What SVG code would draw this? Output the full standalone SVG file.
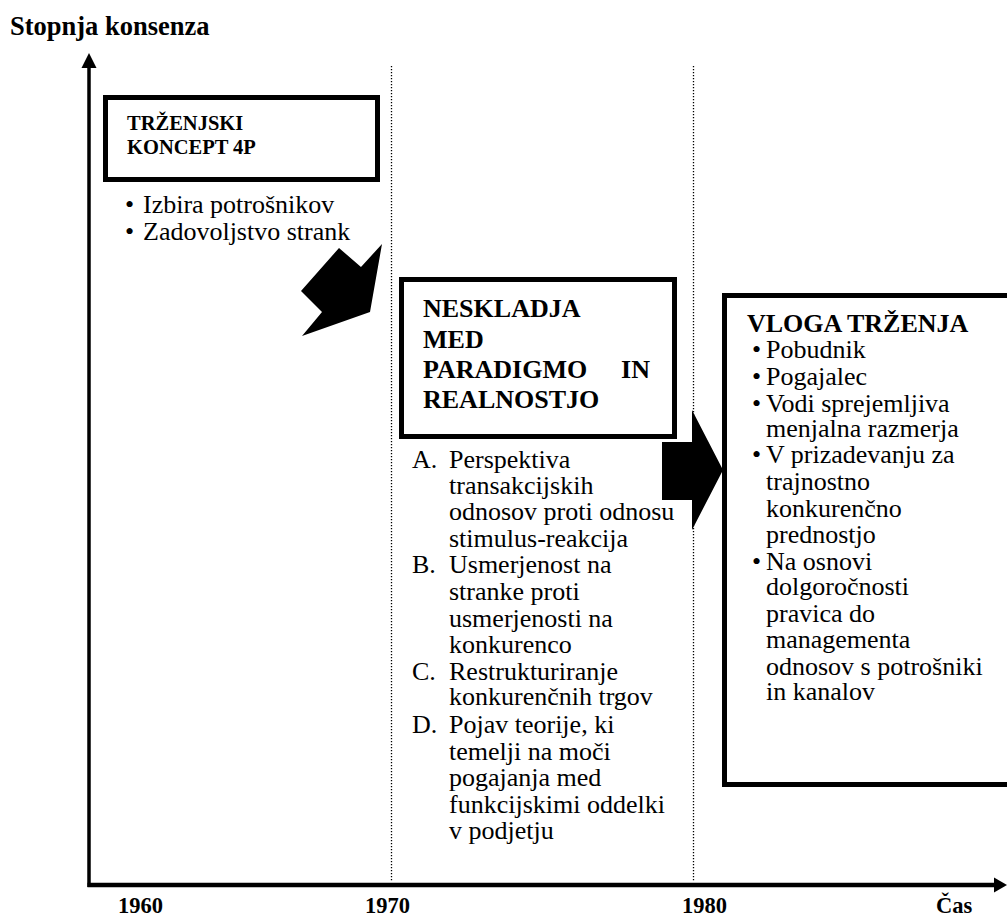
<svg xmlns="http://www.w3.org/2000/svg" width="1007" height="920" viewBox="0 0 1007 920">
<style>
.t{font-family:"Liberation Serif","Times New Roman",serif;fill:#000}
.b{font-weight:bold}
.r{font-size:26px}
.box{fill:#fff;stroke:#000;stroke-width:5}
.dot{stroke:#000;stroke-width:1.3;stroke-dasharray:1.3 1.7;fill:none}
.ax{stroke:#000;fill:none}
</style>
<rect width="1007" height="920" fill="#fff"/>
<g id="gridlines">
<line class="dot" x1="391.5" y1="66" x2="391.5" y2="881"/>
<line class="dot" x1="693.5" y1="66" x2="693.5" y2="881"/>
</g>
<g id="axes">
<line class="ax" x1="89" y1="887" x2="89" y2="66" stroke-width="3.5"/>
<polygon points="89,53 81.5,68 96.5,68"/>
<line class="ax" x1="87.5" y1="885" x2="995" y2="885" stroke-width="4.5"/>
<polygon points="1007,885 994,877.5 994,892.5"/>
<text class="t b" x="10" y="35" font-size="26.5">Stopnja konsenza</text>
<text class="t b" x="118" y="913" font-size="22.5">1960</text>
<text class="t b" x="365" y="913" font-size="22.5">1970</text>
<text class="t b" x="682" y="913" font-size="22.5">1980</text>
<text class="t b" x="936" y="913" font-size="22.5">Čas</text>
</g>
<g id="node-trzenjski">
<rect class="box" x="105.5" y="97.5" width="272" height="82"/>
<text class="t b" x="127" y="130" font-size="20.5">TRŽENJSKI</text>
<text class="t b" x="127" y="154" font-size="20.5">KONCEPT 4P</text>
<text class="t r" x="125" y="213">•</text>
<text class="t r" x="143" y="213">Izbira potrošnikov</text>
<text class="t r" x="125" y="240">•</text>
<text class="t r" x="143" y="240">Zadovoljstvo strank</text>
</g>
<g id="node-neskladja">
<rect class="box" x="401.5" y="279.5" width="273" height="157"/>
<text class="t b r" x="423" y="317">NESKLADJA</text>
<text class="t b r" x="423" y="348">MED</text>
<text class="t b r" x="423" y="378">PARADIGMO</text>
<text class="t b r" x="650" y="378" text-anchor="end">IN</text>
<text class="t b r" x="423" y="408">REALNOSTJO</text>
<g class="t r">
<text x="412" y="468">A.</text><text x="449" y="468">Perspektiva</text>
<text x="449" y="494">transakcijskih</text>
<text x="449" y="520">odnosov proti odnosu</text>
<text x="449" y="547">stimulus-reakcija</text>
<text x="412" y="573">B.</text><text x="449" y="573">Usmerjenost na</text>
<text x="449" y="600">stranke proti</text>
<text x="449" y="627">usmerjenosti na</text>
<text x="449" y="653">konkurenco</text>
<text x="412" y="680">C.</text><text x="449" y="680">Restrukturiranje</text>
<text x="449" y="705">konkurenčnih trgov</text>
<text x="412" y="733">D.</text><text x="449" y="733">Pojav teorije, ki</text>
<text x="449" y="760">temelji na moči</text>
<text x="449" y="786">pogajanja med</text>
<text x="449" y="813">funkcijskimi oddelki</text>
<text x="449" y="839">v podjetju</text>
</g>
</g>
<g id="node-vloga">
<rect class="box" x="724.5" y="295.5" width="300" height="489"/>
<text class="t b r" x="747" y="332">VLOGA TRŽENJA</text>
<g class="t r">
<text x="752" y="358">•</text><text x="766" y="358">Pobudnik</text>
<text x="752" y="385">•</text><text x="766" y="385">Pogajalec</text>
<text x="752" y="412">•</text><text x="766" y="412">Vodi sprejemljiva</text>
<text x="766" y="437">menjalna razmerja</text>
<text x="752" y="463">•</text><text x="766" y="463">V prizadevanju za</text>
<text x="766" y="490">trajnostno</text>
<text x="766" y="517">konkurenčno</text>
<text x="766" y="543">prednostjo</text>
<text x="752" y="570">•</text><text x="766" y="570">Na osnovi</text>
<text x="766" y="595">dolgoročnosti</text>
<text x="766" y="622">pravica do</text>
<text x="766" y="648">managementa</text>
<text x="766" y="675">odnosov s potrošniki</text>
<text x="766" y="700">in kanalov</text>
</g>
</g>
<g id="connectors">
<polygon points="382,244 370,312 302,336 322,312 301,291 339,248 361,267"/>
<polygon points="662,442 692,442 692,410 723,470 692,530 692,500 662,500"/>
</g>
</svg>
